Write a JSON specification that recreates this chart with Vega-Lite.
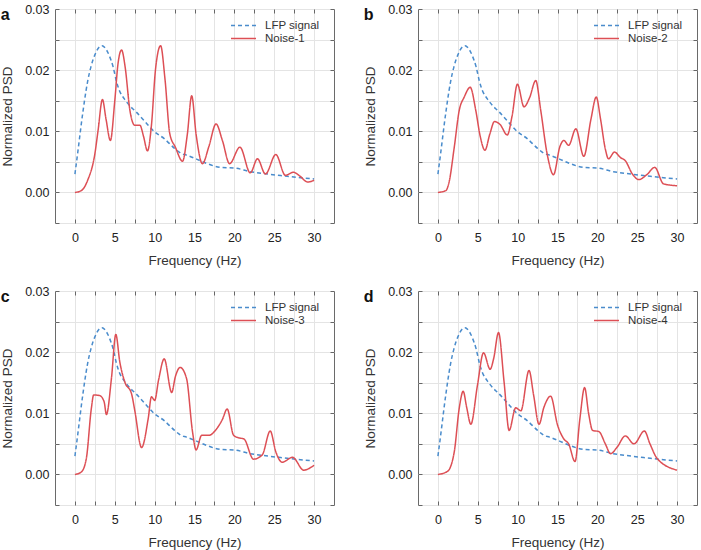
{
 "$schema": "https://vega.github.io/schema/vega-lite/v6.json",
 "padding": {"left": 0, "top": 2, "right": 2, "bottom": 0},
 "config": {
  "font": "Liberation Sans",
  "view": {"stroke": "#6a6a6a", "strokeWidth": 1},
  "axis": {"labelFont": "Liberation Sans", "labelFontSize": 12.5, "labelColor": "#222", "titleFont": "Liberation Sans", "titleFontSize": 13.5, "titleFontWeight": "normal", "titleColor": "#333", "domain": false, "tickColor": "#666", "tickSize": -4, "gridColor": "#e4e4e4", "labelPadding": 12},
  "legend": {"orient": "none", "legendX": 175, "legendY": 10, "padding": 0, "labelFont": "Liberation Sans", "labelFontSize": 11.5, "labelColor": "#333", "symbolType": "stroke", "symbolSize": 625, "symbolStrokeWidth": 1.5, "rowPadding": 0, "labelOffset": 8, "clipHeight": 13},
  "title": {"anchor": "start", "frame": "bounds", "fontSize": 16, "fontWeight": "bold", "color": "#111", "baseline": "top", "offset": -20}
 },
 "datasets": {
  "psd": [
   {"series": "LFP signal", "f": 0, "psd": 0.003},
   {"series": "LFP signal", "f": 0.4, "psd": 0.007},
   {"series": "LFP signal", "f": 0.8, "psd": 0.0112},
   {"series": "LFP signal", "f": 1.2, "psd": 0.015},
   {"series": "LFP signal", "f": 1.6, "psd": 0.0182},
   {"series": "LFP signal", "f": 2.0, "psd": 0.0205},
   {"series": "LFP signal", "f": 2.5, "psd": 0.0225},
   {"series": "LFP signal", "f": 3.0, "psd": 0.0237},
   {"series": "LFP signal", "f": 3.4, "psd": 0.024},
   {"series": "LFP signal", "f": 3.8, "psd": 0.0236},
   {"series": "LFP signal", "f": 4.3, "psd": 0.0224},
   {"series": "LFP signal", "f": 4.8, "psd": 0.0205},
   {"series": "LFP signal", "f": 5.2, "psd": 0.0182},
   {"series": "LFP signal", "f": 5.6, "psd": 0.0166},
   {"series": "LFP signal", "f": 6.2, "psd": 0.0153},
   {"series": "LFP signal", "f": 7.0, "psd": 0.014},
   {"series": "LFP signal", "f": 7.5, "psd": 0.0134},
   {"series": "LFP signal", "f": 8.7, "psd": 0.0117},
   {"series": "LFP signal", "f": 10, "psd": 0.0099},
   {"series": "LFP signal", "f": 11.2, "psd": 0.0088},
   {"series": "LFP signal", "f": 12.5, "psd": 0.0072},
   {"series": "LFP signal", "f": 13.3, "psd": 0.0064},
   {"series": "LFP signal", "f": 14, "psd": 0.0061},
   {"series": "LFP signal", "f": 15, "psd": 0.0056},
   {"series": "LFP signal", "f": 16.6, "psd": 0.0047},
   {"series": "LFP signal", "f": 18.3, "psd": 0.0041},
   {"series": "LFP signal", "f": 20, "psd": 0.004},
   {"series": "LFP signal", "f": 22, "psd": 0.0034},
   {"series": "LFP signal", "f": 24.2, "psd": 0.003},
   {"series": "LFP signal", "f": 26.2, "psd": 0.0027},
   {"series": "LFP signal", "f": 28.3, "psd": 0.0024},
   {"series": "LFP signal", "f": 30, "psd": 0.0022},

   {"series": "Noise-1", "f": 0, "psd": 0},
   {"series": "Noise-1", "f": 0.8, "psd": 0.0003},
   {"series": "Noise-1", "f": 1.6, "psd": 0.002},
   {"series": "Noise-1", "f": 2.5, "psd": 0.0063},
   {"series": "Noise-1", "f": 2.9, "psd": 0.0101},
   {"series": "Noise-1", "f": 3.45, "psd": 0.0152},
   {"series": "Noise-1", "f": 3.9, "psd": 0.012},
   {"series": "Noise-1", "f": 4.45, "psd": 0.0085},
   {"series": "Noise-1", "f": 5.0, "psd": 0.015},
   {"series": "Noise-1", "f": 5.4, "psd": 0.021},
   {"series": "Noise-1", "f": 5.85, "psd": 0.0233},
   {"series": "Noise-1", "f": 6.3, "psd": 0.0205},
   {"series": "Noise-1", "f": 6.9, "psd": 0.0134},
   {"series": "Noise-1", "f": 7.5, "psd": 0.011},
   {"series": "Noise-1", "f": 8.15, "psd": 0.011},
   {"series": "Noise-1", "f": 8.6, "psd": 0.0092},
   {"series": "Noise-1", "f": 9.1, "psd": 0.0068},
   {"series": "Noise-1", "f": 9.6, "psd": 0.011},
   {"series": "Noise-1", "f": 10.1, "psd": 0.02},
   {"series": "Noise-1", "f": 10.75, "psd": 0.024},
   {"series": "Noise-1", "f": 11.3, "psd": 0.0185},
   {"series": "Noise-1", "f": 11.9, "psd": 0.0096},
   {"series": "Noise-1", "f": 12.6, "psd": 0.0074},
   {"series": "Noise-1", "f": 13.5, "psd": 0.0051},
   {"series": "Noise-1", "f": 14.1, "psd": 0.0095},
   {"series": "Noise-1", "f": 14.65, "psd": 0.0158},
   {"series": "Noise-1", "f": 15.2, "psd": 0.0095},
   {"series": "Noise-1", "f": 16.0, "psd": 0.0047},
   {"series": "Noise-1", "f": 16.8, "psd": 0.0075},
   {"series": "Noise-1", "f": 17.7, "psd": 0.0112},
   {"series": "Noise-1", "f": 18.5, "psd": 0.0085},
   {"series": "Noise-1", "f": 19.4, "psd": 0.0047},
   {"series": "Noise-1", "f": 20.7, "psd": 0.0074},
   {"series": "Noise-1", "f": 22.0, "psd": 0.0032},
   {"series": "Noise-1", "f": 22.9, "psd": 0.0055},
   {"series": "Noise-1", "f": 23.9, "psd": 0.003},
   {"series": "Noise-1", "f": 25.2, "psd": 0.0062},
   {"series": "Noise-1", "f": 26.4, "psd": 0.0028},
   {"series": "Noise-1", "f": 27.4, "psd": 0.0033},
   {"series": "Noise-1", "f": 28.2, "psd": 0.0027},
   {"series": "Noise-1", "f": 29.2, "psd": 0.0017},
   {"series": "Noise-1", "f": 30, "psd": 0.002},

   {"series": "Noise-2", "f": 0, "psd": 0},
   {"series": "Noise-2", "f": 1.0, "psd": 0.0003},
   {"series": "Noise-2", "f": 1.4, "psd": 0.0017},
   {"series": "Noise-2", "f": 2.05, "psd": 0.0074},
   {"series": "Noise-2", "f": 2.67, "psd": 0.0134},
   {"series": "Noise-2", "f": 3.3, "psd": 0.0156},
   {"series": "Noise-2", "f": 4.05, "psd": 0.0172},
   {"series": "Noise-2", "f": 4.75, "psd": 0.0134},
   {"series": "Noise-2", "f": 5.3, "psd": 0.0092},
   {"series": "Noise-2", "f": 5.9, "psd": 0.0069},
   {"series": "Noise-2", "f": 6.5, "psd": 0.0095},
   {"series": "Noise-2", "f": 7.1, "psd": 0.0116},
   {"series": "Noise-2", "f": 7.8, "psd": 0.0111},
   {"series": "Noise-2", "f": 8.7, "psd": 0.0094},
   {"series": "Noise-2", "f": 9.3, "psd": 0.0125},
   {"series": "Noise-2", "f": 9.97, "psd": 0.0177},
   {"series": "Noise-2", "f": 10.8, "psd": 0.014},
   {"series": "Noise-2", "f": 11.5, "psd": 0.0155},
   {"series": "Noise-2", "f": 12.27, "psd": 0.0183},
   {"series": "Noise-2", "f": 12.9, "psd": 0.0134},
   {"series": "Noise-2", "f": 13.7, "psd": 0.0063},
   {"series": "Noise-2", "f": 14.5, "psd": 0.0029},
   {"series": "Noise-2", "f": 15.3, "psd": 0.0075},
   {"series": "Noise-2", "f": 15.8, "psd": 0.0085},
   {"series": "Noise-2", "f": 16.4, "psd": 0.0077},
   {"series": "Noise-2", "f": 17.3, "psd": 0.0104},
   {"series": "Noise-2", "f": 18.3, "psd": 0.0059},
   {"series": "Noise-2", "f": 19.2, "psd": 0.012},
   {"series": "Noise-2", "f": 19.86, "psd": 0.0156},
   {"series": "Noise-2", "f": 20.4, "psd": 0.012},
   {"series": "Noise-2", "f": 21.0, "psd": 0.0071},
   {"series": "Noise-2", "f": 21.4, "psd": 0.0055},
   {"series": "Noise-2", "f": 22.15, "psd": 0.0066},
   {"series": "Noise-2", "f": 22.9, "psd": 0.0057},
   {"series": "Noise-2", "f": 23.5, "psd": 0.0052},
   {"series": "Noise-2", "f": 24.4, "psd": 0.003},
   {"series": "Noise-2", "f": 25.2, "psd": 0.0021},
   {"series": "Noise-2", "f": 26.2, "psd": 0.0029},
   {"series": "Noise-2", "f": 27.2, "psd": 0.0041},
   {"series": "Noise-2", "f": 28.3, "psd": 0.0014},
   {"series": "Noise-2", "f": 30, "psd": 0.0011},

   {"series": "Noise-3", "f": 0, "psd": 0},
   {"series": "Noise-3", "f": 0.8, "psd": 0.0004},
   {"series": "Noise-3", "f": 1.43, "psd": 0.0026},
   {"series": "Noise-3", "f": 2.06, "psd": 0.0108},
   {"series": "Noise-3", "f": 2.35, "psd": 0.013},
   {"series": "Noise-3", "f": 3.1, "psd": 0.0129},
   {"series": "Noise-3", "f": 3.66, "psd": 0.0119},
   {"series": "Noise-3", "f": 3.95, "psd": 0.0098},
   {"series": "Noise-3", "f": 4.58, "psd": 0.0157},
   {"series": "Noise-3", "f": 5.13, "psd": 0.0229},
   {"series": "Noise-3", "f": 5.63, "psd": 0.0184},
   {"series": "Noise-3", "f": 6.26, "psd": 0.0151},
   {"series": "Noise-3", "f": 7.1, "psd": 0.0132},
   {"series": "Noise-3", "f": 7.5, "psd": 0.0105},
   {"series": "Noise-3", "f": 8.36, "psd": 0.0044},
   {"series": "Noise-3", "f": 9.2, "psd": 0.0092},
   {"series": "Noise-3", "f": 9.6, "psd": 0.0127},
   {"series": "Noise-3", "f": 10.0, "psd": 0.0121},
   {"series": "Noise-3", "f": 10.5, "psd": 0.0155},
   {"series": "Noise-3", "f": 11.2, "psd": 0.0189},
   {"series": "Noise-3", "f": 12.14, "psd": 0.0134},
   {"series": "Noise-3", "f": 12.6, "psd": 0.016},
   {"series": "Noise-3", "f": 13.2, "psd": 0.0175},
   {"series": "Noise-3", "f": 14.0, "psd": 0.0157},
   {"series": "Noise-3", "f": 14.75, "psd": 0.007},
   {"series": "Noise-3", "f": 15.2, "psd": 0.004},
   {"series": "Noise-3", "f": 15.9, "psd": 0.0064},
   {"series": "Noise-3", "f": 16.8, "psd": 0.0064},
   {"series": "Noise-3", "f": 17.8, "psd": 0.0075},
   {"series": "Noise-3", "f": 18.5, "psd": 0.009},
   {"series": "Noise-3", "f": 19.1, "psd": 0.0107},
   {"series": "Noise-3", "f": 19.9, "psd": 0.0064},
   {"series": "Noise-3", "f": 20.5, "psd": 0.006},
   {"series": "Noise-3", "f": 21.2, "psd": 0.0058},
   {"series": "Noise-3", "f": 22.4, "psd": 0.0025},
   {"series": "Noise-3", "f": 23.5, "psd": 0.0032},
   {"series": "Noise-3", "f": 24.5, "psd": 0.0071},
   {"series": "Noise-3", "f": 25.2, "psd": 0.0037},
   {"series": "Noise-3", "f": 26.0, "psd": 0.002},
   {"series": "Noise-3", "f": 27.3, "psd": 0.0028},
   {"series": "Noise-3", "f": 28.7, "psd": 0.0007},
   {"series": "Noise-3", "f": 30, "psd": 0.0015},

   {"series": "Noise-4", "f": 0, "psd": 0},
   {"series": "Noise-4", "f": 1.2, "psd": 0.0005},
   {"series": "Noise-4", "f": 2.05, "psd": 0.0037},
   {"series": "Noise-4", "f": 2.67, "psd": 0.0108},
   {"series": "Noise-4", "f": 3.17, "psd": 0.0136},
   {"series": "Noise-4", "f": 3.6, "psd": 0.011},
   {"series": "Noise-4", "f": 4.13, "psd": 0.0082},
   {"series": "Noise-4", "f": 4.96, "psd": 0.0146},
   {"series": "Noise-4", "f": 5.72, "psd": 0.0199},
   {"series": "Noise-4", "f": 6.55, "psd": 0.0172},
   {"series": "Noise-4", "f": 7.0, "psd": 0.019},
   {"series": "Noise-4", "f": 7.6, "psd": 0.0232},
   {"series": "Noise-4", "f": 8.3, "psd": 0.0151},
   {"series": "Noise-4", "f": 8.93, "psd": 0.0072},
   {"series": "Noise-4", "f": 9.76, "psd": 0.0109},
   {"series": "Noise-4", "f": 10.4, "psd": 0.0104},
   {"series": "Noise-4", "f": 11.43, "psd": 0.017},
   {"series": "Noise-4", "f": 12.0, "psd": 0.013},
   {"series": "Noise-4", "f": 12.68, "psd": 0.0082},
   {"series": "Noise-4", "f": 13.3, "psd": 0.011},
   {"series": "Noise-4", "f": 14.14, "psd": 0.0128},
   {"series": "Noise-4", "f": 15.0, "psd": 0.0081},
   {"series": "Noise-4", "f": 15.8, "psd": 0.0058},
   {"series": "Noise-4", "f": 16.4, "psd": 0.005},
   {"series": "Noise-4", "f": 17.2, "psd": 0.0021},
   {"series": "Noise-4", "f": 17.8, "psd": 0.009},
   {"series": "Noise-4", "f": 18.4, "psd": 0.0142},
   {"series": "Noise-4", "f": 18.9, "psd": 0.01},
   {"series": "Noise-4", "f": 19.4, "psd": 0.0072},
   {"series": "Noise-4", "f": 20.2, "psd": 0.007},
   {"series": "Noise-4", "f": 21.0, "psd": 0.005},
   {"series": "Noise-4", "f": 21.65, "psd": 0.0034},
   {"series": "Noise-4", "f": 22.5, "psd": 0.0045},
   {"series": "Noise-4", "f": 23.5, "psd": 0.0063},
   {"series": "Noise-4", "f": 24.6, "psd": 0.005},
   {"series": "Noise-4", "f": 25.9, "psd": 0.0071},
   {"series": "Noise-4", "f": 26.6, "psd": 0.005},
   {"series": "Noise-4", "f": 27.5, "psd": 0.0026},
   {"series": "Noise-4", "f": 30, "psd": 0.0007}
  ]
 },
 "data": {"name": "psd"},
 "columns": 2,
 "spacing": {"row": 16, "column": 28},
 "resolve": {"scale": {"color": "independent", "strokeDash": "independent"}, "legend": {"color": "independent", "strokeDash": "independent"}},
 "concat": [
  {
   "title": {"text": "a"},
   "width": 279, "height": 214,
   "layer": [
    {"transform": [{"filter": "datum.series == 'LFP signal'"}],
     "mark": {"type": "line", "interpolate": "monotone", "strokeWidth": 1.5},
     "encoding": {
      "x": {"field": "f", "type": "quantitative", "scale": {"domain": [-2.5, 32.5], "nice": false, "zero": false}, "axis": {"orient": "bottom", "title": "Frequency (Hz)", "values": [0, 2.5, 5, 7.5, 10, 12.5, 15, 17.5, 20, 22.5, 25, 27.5, 30], "labelExpr": "datum.value % 5 === 0 ? datum.label : ''", "grid": true, "titlePadding": 10}},
      "y": {"field": "psd", "type": "quantitative", "scale": {"domain": [-0.005, 0.03], "nice": false, "zero": false}, "axis": {"orient": "left", "title": "Normalized PSD", "values": [-0.005, 0, 0.005, 0.01, 0.015, 0.02, 0.025, 0.03], "labelExpr": "abs(round(datum.value * 1000)) % 10 === 0 ? format(datum.value, '.2f') : ''", "grid": true, "labelPadding": 10, "titlePadding": 10}},
      "color": {"field": "series", "type": "nominal", "title": null, "scale": {"domain": ["LFP signal", "Noise-1"], "range": ["#4a8ccc", "#dd4f55"]}},
      "strokeDash": {"field": "series", "type": "nominal", "title": null, "scale": {"domain": ["LFP signal", "Noise-1"], "range": [[4, 3], [1, 0]]}}
     }},
    {"transform": [{"filter": "datum.series == 'Noise-1'"}],
     "mark": {"type": "line", "interpolate": "monotone", "strokeWidth": 1.5},
     "encoding": {
      "x": {"field": "f", "type": "quantitative", "scale": {"domain": [-2.5, 32.5], "nice": false, "zero": false}, "axis": {"orient": "top", "title": null, "labels": false, "grid": false, "values": [0, 2.5, 5, 7.5, 10, 12.5, 15, 17.5, 20, 22.5, 25, 27.5, 30]}},
      "y": {"field": "psd", "type": "quantitative", "scale": {"domain": [-0.005, 0.03], "nice": false, "zero": false}, "axis": {"orient": "right", "title": null, "labels": false, "grid": false, "values": [-0.005, 0, 0.005, 0.01, 0.015, 0.02, 0.025, 0.03]}},
      "color": {"field": "series", "type": "nominal", "title": null, "scale": {"domain": ["LFP signal", "Noise-1"], "range": ["#4a8ccc", "#dd4f55"]}},
      "strokeDash": {"field": "series", "type": "nominal", "title": null, "scale": {"domain": ["LFP signal", "Noise-1"], "range": [[4, 3], [1, 0]]}}
     }}
   ],
   "resolve": {"axis": {"x": "independent", "y": "independent"}}
  },
  {
   "title": {"text": "b"},
   "width": 279, "height": 214,
   "layer": [
    {"transform": [{"filter": "datum.series == 'LFP signal'"}],
     "mark": {"type": "line", "interpolate": "monotone", "strokeWidth": 1.5},
     "encoding": {
      "x": {"field": "f", "type": "quantitative", "scale": {"domain": [-2.5, 32.5], "nice": false, "zero": false}, "axis": {"orient": "bottom", "title": "Frequency (Hz)", "values": [0, 2.5, 5, 7.5, 10, 12.5, 15, 17.5, 20, 22.5, 25, 27.5, 30], "labelExpr": "datum.value % 5 === 0 ? datum.label : ''", "grid": true, "titlePadding": 10}},
      "y": {"field": "psd", "type": "quantitative", "scale": {"domain": [-0.005, 0.03], "nice": false, "zero": false}, "axis": {"orient": "left", "title": "Normalized PSD", "values": [-0.005, 0, 0.005, 0.01, 0.015, 0.02, 0.025, 0.03], "labelExpr": "abs(round(datum.value * 1000)) % 10 === 0 ? format(datum.value, '.2f') : ''", "grid": true, "labelPadding": 10, "titlePadding": 10}},
      "color": {"field": "series", "type": "nominal", "title": null, "scale": {"domain": ["LFP signal", "Noise-2"], "range": ["#4a8ccc", "#dd4f55"]}},
      "strokeDash": {"field": "series", "type": "nominal", "title": null, "scale": {"domain": ["LFP signal", "Noise-2"], "range": [[4, 3], [1, 0]]}}
     }},
    {"transform": [{"filter": "datum.series == 'Noise-2'"}],
     "mark": {"type": "line", "interpolate": "monotone", "strokeWidth": 1.5},
     "encoding": {
      "x": {"field": "f", "type": "quantitative", "scale": {"domain": [-2.5, 32.5], "nice": false, "zero": false}, "axis": {"orient": "top", "title": null, "labels": false, "grid": false, "values": [0, 2.5, 5, 7.5, 10, 12.5, 15, 17.5, 20, 22.5, 25, 27.5, 30]}},
      "y": {"field": "psd", "type": "quantitative", "scale": {"domain": [-0.005, 0.03], "nice": false, "zero": false}, "axis": {"orient": "right", "title": null, "labels": false, "grid": false, "values": [-0.005, 0, 0.005, 0.01, 0.015, 0.02, 0.025, 0.03]}},
      "color": {"field": "series", "type": "nominal", "title": null, "scale": {"domain": ["LFP signal", "Noise-2"], "range": ["#4a8ccc", "#dd4f55"]}},
      "strokeDash": {"field": "series", "type": "nominal", "title": null, "scale": {"domain": ["LFP signal", "Noise-2"], "range": [[4, 3], [1, 0]]}}
     }}
   ],
   "resolve": {"axis": {"x": "independent", "y": "independent"}}
  },
  {
   "title": {"text": "c"},
   "width": 279, "height": 214,
   "layer": [
    {"transform": [{"filter": "datum.series == 'LFP signal'"}],
     "mark": {"type": "line", "interpolate": "monotone", "strokeWidth": 1.5},
     "encoding": {
      "x": {"field": "f", "type": "quantitative", "scale": {"domain": [-2.5, 32.5], "nice": false, "zero": false}, "axis": {"orient": "bottom", "title": "Frequency (Hz)", "values": [0, 2.5, 5, 7.5, 10, 12.5, 15, 17.5, 20, 22.5, 25, 27.5, 30], "labelExpr": "datum.value % 5 === 0 ? datum.label : ''", "grid": true, "titlePadding": 10}},
      "y": {"field": "psd", "type": "quantitative", "scale": {"domain": [-0.005, 0.03], "nice": false, "zero": false}, "axis": {"orient": "left", "title": "Normalized PSD", "values": [-0.005, 0, 0.005, 0.01, 0.015, 0.02, 0.025, 0.03], "labelExpr": "abs(round(datum.value * 1000)) % 10 === 0 ? format(datum.value, '.2f') : ''", "grid": true, "labelPadding": 10, "titlePadding": 10}},
      "color": {"field": "series", "type": "nominal", "title": null, "scale": {"domain": ["LFP signal", "Noise-3"], "range": ["#4a8ccc", "#dd4f55"]}},
      "strokeDash": {"field": "series", "type": "nominal", "title": null, "scale": {"domain": ["LFP signal", "Noise-3"], "range": [[4, 3], [1, 0]]}}
     }},
    {"transform": [{"filter": "datum.series == 'Noise-3'"}],
     "mark": {"type": "line", "interpolate": "monotone", "strokeWidth": 1.5},
     "encoding": {
      "x": {"field": "f", "type": "quantitative", "scale": {"domain": [-2.5, 32.5], "nice": false, "zero": false}, "axis": {"orient": "top", "title": null, "labels": false, "grid": false, "values": [0, 2.5, 5, 7.5, 10, 12.5, 15, 17.5, 20, 22.5, 25, 27.5, 30]}},
      "y": {"field": "psd", "type": "quantitative", "scale": {"domain": [-0.005, 0.03], "nice": false, "zero": false}, "axis": {"orient": "right", "title": null, "labels": false, "grid": false, "values": [-0.005, 0, 0.005, 0.01, 0.015, 0.02, 0.025, 0.03]}},
      "color": {"field": "series", "type": "nominal", "title": null, "scale": {"domain": ["LFP signal", "Noise-3"], "range": ["#4a8ccc", "#dd4f55"]}},
      "strokeDash": {"field": "series", "type": "nominal", "title": null, "scale": {"domain": ["LFP signal", "Noise-3"], "range": [[4, 3], [1, 0]]}}
     }}
   ],
   "resolve": {"axis": {"x": "independent", "y": "independent"}}
  },
  {
   "title": {"text": "d"},
   "width": 279, "height": 214,
   "layer": [
    {"transform": [{"filter": "datum.series == 'LFP signal'"}],
     "mark": {"type": "line", "interpolate": "monotone", "strokeWidth": 1.5},
     "encoding": {
      "x": {"field": "f", "type": "quantitative", "scale": {"domain": [-2.5, 32.5], "nice": false, "zero": false}, "axis": {"orient": "bottom", "title": "Frequency (Hz)", "values": [0, 2.5, 5, 7.5, 10, 12.5, 15, 17.5, 20, 22.5, 25, 27.5, 30], "labelExpr": "datum.value % 5 === 0 ? datum.label : ''", "grid": true, "titlePadding": 10}},
      "y": {"field": "psd", "type": "quantitative", "scale": {"domain": [-0.005, 0.03], "nice": false, "zero": false}, "axis": {"orient": "left", "title": "Normalized PSD", "values": [-0.005, 0, 0.005, 0.01, 0.015, 0.02, 0.025, 0.03], "labelExpr": "abs(round(datum.value * 1000)) % 10 === 0 ? format(datum.value, '.2f') : ''", "grid": true, "labelPadding": 10, "titlePadding": 10}},
      "color": {"field": "series", "type": "nominal", "title": null, "scale": {"domain": ["LFP signal", "Noise-4"], "range": ["#4a8ccc", "#dd4f55"]}},
      "strokeDash": {"field": "series", "type": "nominal", "title": null, "scale": {"domain": ["LFP signal", "Noise-4"], "range": [[4, 3], [1, 0]]}}
     }},
    {"transform": [{"filter": "datum.series == 'Noise-4'"}],
     "mark": {"type": "line", "interpolate": "monotone", "strokeWidth": 1.5},
     "encoding": {
      "x": {"field": "f", "type": "quantitative", "scale": {"domain": [-2.5, 32.5], "nice": false, "zero": false}, "axis": {"orient": "top", "title": null, "labels": false, "grid": false, "values": [0, 2.5, 5, 7.5, 10, 12.5, 15, 17.5, 20, 22.5, 25, 27.5, 30]}},
      "y": {"field": "psd", "type": "quantitative", "scale": {"domain": [-0.005, 0.03], "nice": false, "zero": false}, "axis": {"orient": "right", "title": null, "labels": false, "grid": false, "values": [-0.005, 0, 0.005, 0.01, 0.015, 0.02, 0.025, 0.03]}},
      "color": {"field": "series", "type": "nominal", "title": null, "scale": {"domain": ["LFP signal", "Noise-4"], "range": ["#4a8ccc", "#dd4f55"]}},
      "strokeDash": {"field": "series", "type": "nominal", "title": null, "scale": {"domain": ["LFP signal", "Noise-4"], "range": [[4, 3], [1, 0]]}}
     }}
   ],
   "resolve": {"axis": {"x": "independent", "y": "independent"}}
  }
 ]
}
